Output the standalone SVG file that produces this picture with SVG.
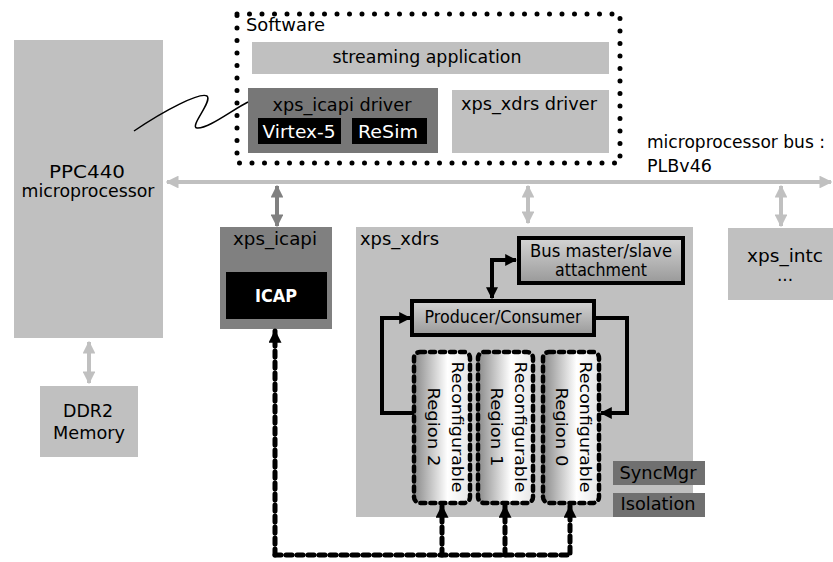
<svg xmlns="http://www.w3.org/2000/svg" width="833" height="562" viewBox="0 0 833 562">
<style>
text{font-family:"DejaVu Sans","Liberation Sans",sans-serif;font-size:17px;fill:#000}
.c{text-anchor:middle}
.r{font-size:16px}
.w{fill:#fff}
.lg{fill:#c0c0c0}
.bus{stroke:#c0c0c0;stroke-width:4;fill:none}
.dk{stroke:#808080;stroke-width:4;fill:none}
.blk{stroke:#000;stroke-width:4;fill:none}
.dash{stroke:#000;stroke-width:5;fill:none;stroke-dasharray:6 5;stroke-linecap:round}
.box{stroke:#000;stroke-width:4;fill:url(#g1)}
.reg{stroke:#000;stroke-width:4.5;stroke-dasharray:5 5;stroke-linecap:round;fill:url(#g2)}
</style>
<defs>
<linearGradient id="g1" x1="0" y1="0" x2="0" y2="1"><stop offset="0" stop-color="#d4d4d4"/><stop offset="1" stop-color="#999"/></linearGradient>
<linearGradient id="g2" x1="0" y1="0" x2="1" y2="0"><stop offset="0" stop-color="#8a8a8a"/><stop offset="0.6" stop-color="#fff"/><stop offset="1" stop-color="#e6e6e6"/></linearGradient>
<marker id="ag" viewBox="0 0 10 10" refX="9" refY="5" markerWidth="3.2" markerHeight="3.2" orient="auto-start-reverse"><path d="M0,0L10,5L0,10z" fill="#c0c0c0"/></marker>
<marker id="ad" viewBox="0 0 10 10" refX="9" refY="5" markerWidth="3.2" markerHeight="3.2" orient="auto-start-reverse"><path d="M0,0L10,5L0,10z" fill="#808080"/></marker>
<marker id="ab" viewBox="0 0 10 10" refX="9" refY="5" markerWidth="3" markerHeight="3" orient="auto-start-reverse"><path d="M0,0L10,5L0,10z" fill="#000"/></marker>
<marker id="abd" viewBox="0 0 10 10" refX="9" refY="5" markerWidth="2.6" markerHeight="2.6" orient="auto-start-reverse"><path d="M0,0L10,5L0,10z" fill="#000"/></marker>
</defs>

<g id="software">
<rect x="237" y="14" width="383" height="149" fill="none" stroke="#000" stroke-width="5" stroke-dasharray="0 12.5" stroke-linecap="round"/>
<text x="246" y="31" textLength="79" lengthAdjust="spacingAndGlyphs">Software</text>
</g>
<g id="streaming"><rect x="252" y="42" width="357" height="32" class="lg"/><text x="427" y="63" class="c" textLength="189" lengthAdjust="spacingAndGlyphs">streaming application</text></g>
<g id="icapi_driver">
<rect x="248" y="88" width="190" height="65" fill="#777"/>
<text x="342" y="111" class="c" textLength="139" lengthAdjust="spacingAndGlyphs">xps_icapi driver</text>
<rect x="258" y="118" width="83" height="26" fill="#000"/><text x="299" y="138" class="c w" textLength="73" lengthAdjust="spacingAndGlyphs">Virtex-5</text>
<rect x="352" y="118" width="75" height="26" fill="#000"/><text x="388" y="138" class="c w" textLength="60" lengthAdjust="spacingAndGlyphs">ReSim</text>
</g>
<g id="xdrs_driver"><rect x="452" y="90" width="157" height="63" class="lg"/><text x="461" y="110" textLength="136" lengthAdjust="spacingAndGlyphs">xps_xdrs driver</text></g>

<g id="ppc"><rect x="14" y="40" width="149" height="298" class="lg"/><text x="87" y="178" class="c" textLength="76" lengthAdjust="spacingAndGlyphs">PPC440</text><text x="88" y="197" class="c" textLength="133" lengthAdjust="spacingAndGlyphs">microprocessor</text></g>
<g id="ddr"><rect x="40" y="386" width="98" height="71" class="lg"/><text x="88" y="417" class="c" textLength="50" lengthAdjust="spacingAndGlyphs">DDR2</text><text x="89" y="439" class="c" textLength="72" lengthAdjust="spacingAndGlyphs">Memory</text></g>
<g id="bus_label"><text x="647" y="148" textLength="178" lengthAdjust="spacingAndGlyphs">microprocessor bus :</text><text x="647" y="172" textLength="65" lengthAdjust="spacingAndGlyphs">PLBv46</text></g>

<g id="xps_icapi">
<rect x="220" y="227" width="112" height="102" fill="#808080"/>
<text x="275" y="245" class="c" textLength="84" lengthAdjust="spacingAndGlyphs">xps_icapi</text>
<rect x="226" y="272" width="101" height="47" fill="#000"/>
<text x="276" y="302" class="c w" font-weight="bold" textLength="42" lengthAdjust="spacingAndGlyphs">ICAP</text>
</g>
<g id="xps_xdrs"><rect x="356" y="227" width="337" height="290" class="lg"/><text x="360" y="245" textLength="79" lengthAdjust="spacingAndGlyphs">xps_xdrs</text></g>
<g id="xps_intc"><rect x="728" y="228" width="105" height="72" class="lg"/><text x="785" y="262" class="c" textLength="76" lengthAdjust="spacingAndGlyphs">xps_intc</text><text x="785" y="281" class="c">...</text></g>
<g id="busmaster"><rect x="519" y="238" width="164" height="45" class="box"/><text x="601" y="257" class="c" textLength="142" lengthAdjust="spacingAndGlyphs">Bus master/slave</text><text x="601" y="276" class="c" textLength="92" lengthAdjust="spacingAndGlyphs">attachment</text></g>
<g id="prodcons"><rect x="412" y="301" width="182" height="34" class="box"/><text x="503" y="323" class="c" textLength="157" lengthAdjust="spacingAndGlyphs">Producer/Consumer</text></g>
<g id="region2"><rect x="414" y="352" width="56" height="151" rx="6" class="reg"/><text transform="translate(452,427) rotate(90)" class="c r" textLength="131" lengthAdjust="spacingAndGlyphs">Reconfigurable</text><text transform="translate(428,427) rotate(90)" class="c r" textLength="79" lengthAdjust="spacingAndGlyphs">Region 2</text></g>
<g id="region1"><rect x="478" y="352" width="55" height="151" rx="6" class="reg"/><text transform="translate(515,427) rotate(90)" class="c r" textLength="131" lengthAdjust="spacingAndGlyphs">Reconfigurable</text><text transform="translate(491,427) rotate(90)" class="c r" textLength="79" lengthAdjust="spacingAndGlyphs">Region 1</text></g>
<g id="region0"><rect x="543" y="352" width="56" height="151" rx="6" class="reg"/><text transform="translate(580,427) rotate(90)" class="c r" textLength="131" lengthAdjust="spacingAndGlyphs">Reconfigurable</text><text transform="translate(556,427) rotate(90)" class="c r" textLength="79" lengthAdjust="spacingAndGlyphs">Region 0</text></g>
<g id="syncmgr"><rect x="613" y="461" width="92" height="24" fill="#707070"/><text x="658" y="479" class="c" textLength="77" lengthAdjust="spacingAndGlyphs">SyncMgr</text></g>
<g id="isolation"><rect x="613" y="493" width="92" height="24" fill="#707070"/><text x="658" y="510" class="c" textLength="75" lengthAdjust="spacingAndGlyphs">Isolation</text></g>

<g id="connectors">
<path d="M167,182H831" class="bus" marker-start="url(#ag)" marker-end="url(#ag)"/>
<path d="M277,186V226" class="dk" marker-start="url(#ad)" marker-end="url(#ad)"/>
<path d="M528,186V223" class="bus" marker-start="url(#ag)" marker-end="url(#ag)"/>
<path d="M781,186V226" class="bus" marker-start="url(#ag)" marker-end="url(#ag)"/>
<path d="M89,342V383" class="bus" marker-start="url(#ag)" marker-end="url(#ag)"/>
<path d="M134,131C165,110 200,92 207,96C213,101 189,127 197,128C208,129 232,110 248,102" fill="none" stroke="#000" stroke-width="1.5"/>
<path d="M516,260H492V298" class="blk" marker-start="url(#ab)" marker-end="url(#ab)"/>
<path d="M414,413H382V318H410" class="blk" marker-end="url(#ab)"/>
<path d="M594,318H627V413H601" class="blk" marker-end="url(#ab)"/>
<path d="M275,555V331" class="dash" marker-end="url(#abd)"/>
<path d="M275,555H570V506" class="dash" marker-end="url(#abd)"/>
<path d="M442,555V506" class="dash" marker-end="url(#abd)"/>
<path d="M505,555V506" class="dash" marker-end="url(#abd)"/>
</g>
</svg>
